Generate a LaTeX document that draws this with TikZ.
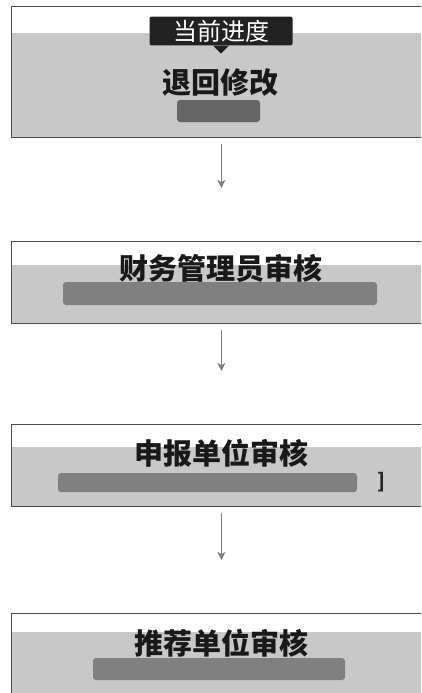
\documentclass[tikz,border=0pt]{standalone}
\usepackage{fontspec}
\usetikzlibrary{arrows.meta}
\newfontfamily\cjk{Noto Sans CJK SC}
\definecolor{band}{RGB}{200,200,200}
\definecolor{blot}{RGB}{128,128,128}
\definecolor{tagbg}{RGB}{34,34,34}
\begin{document}
\begin{tikzpicture}[x=1pt,y=-1pt,
  stepbox/.style={draw=black!70,line width=0.8pt,anchor=north west,inner sep=0pt,minimum width=420pt},
  title/.style={font=\cjk\bfseries\fontsize{29}{30}\selectfont,text=black!90},
  blotch/.style={fill=blot,rounded corners=3pt},
  arr/.style={-{Stealth[length=8pt,width=8pt,inset=2pt]},draw=black!50,line width=1.4pt,shorten <=6pt,shorten >=53pt}]
\useasboundingbox (0,0) rectangle (421,693);
\clip (0,0) rectangle (421,693);
\fill[white] (0,0) rectangle (421,693);
\fill[band] (11,33) rectangle (431,137);
\fill[band] (11,265) rectangle (431,323);
\fill[band] (11,447) rectangle (431,506);
\fill[band] (11,632) rectangle (431,700);
\node[stepbox,minimum height=131pt] (s1) at (11,6) {};
\node[stepbox,minimum height=82pt] (s2) at (11,241) {};
\node[stepbox,minimum height=82pt] (s3) at (11,424) {};
\node[stepbox,minimum height=90pt] (s4) at (11,613) {};
\node[fill=tagbg,text=white,rounded corners=2pt,minimum width=143pt,minimum height=28pt,
  font=\cjk\fontsize{24}{26}\selectfont] (tag) at (221,31) {当前进度};
\fill[tagbg] (tag.south) ++(-8,0) -- ++(8,8) -- ++(8,-8) -- cycle;
\node[title] (t1) at (220,83) {退回修改};
\node[title] (t2) at (221,268) {财务管理员审核};
\node[title] (t3) at (221,453) {申报单位审核};
\node[title] (t4) at (221,643) {推荐单位审核};
\fill[blotch,fill=blot!80!black] (177,100) rectangle (260,122);
\fill[blotch] (63,282) rectangle (377,305);
\fill[blotch] (58,473) rectangle (357,492);
\node[font=\cjk\bfseries\fontsize{20}{20}\selectfont,text=black!85] (br) at (381,482) {]};
\fill[blotch] (93,658) rectangle (345,680);
\draw[arr] (s1.south) -- (s2.north);
\draw[arr] (s2.south) -- (s3.north);
\draw[arr] (s3.south) -- (s4.north);
\end{tikzpicture}
\end{document}
